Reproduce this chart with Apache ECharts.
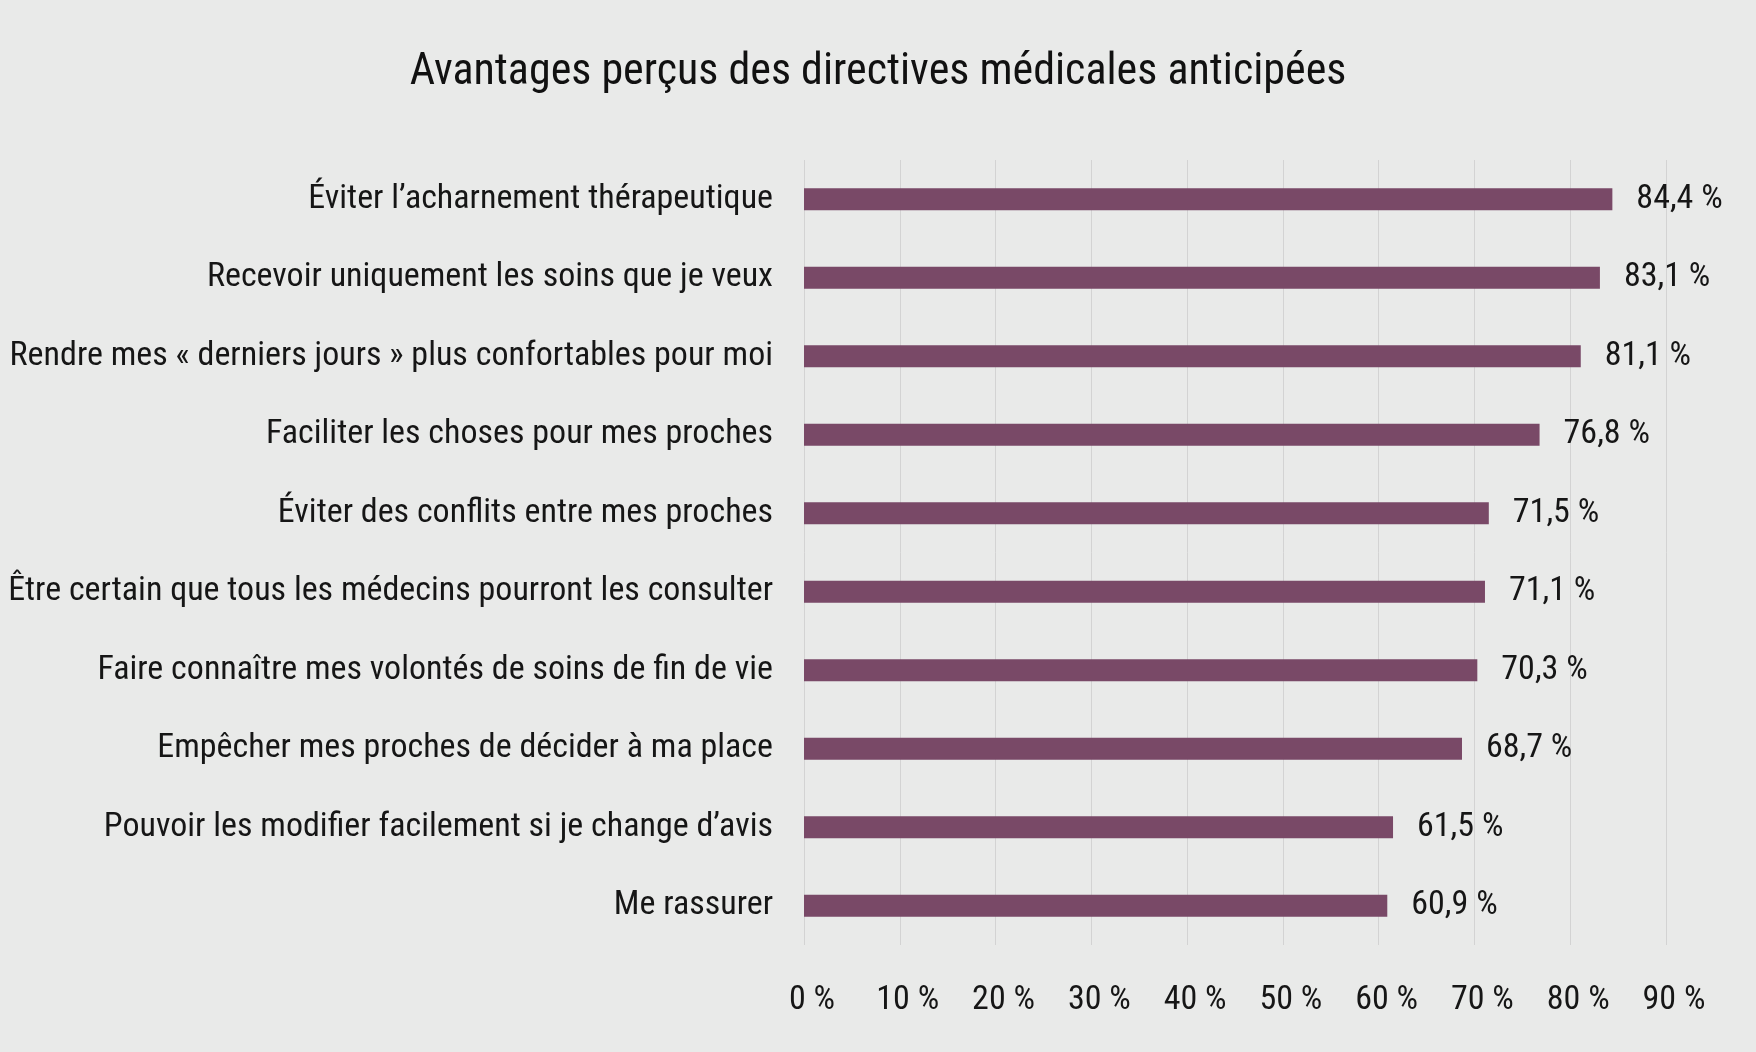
<!DOCTYPE html>
<html>
<head>
<meta charset="utf-8">
<script src="https://cdn.jsdelivr.net/npm/echarts@6/dist/echarts.min.js"></script>
<style>
html,body{margin:0;padding:0;background:#e9eae9;}
#chart{width:1756px;height:1052px;}
</style>
</head>
<body>
<div id="chart"></div>
<script>
const titleText = "Avantages perçus des directives médicales anticipées";
const categories = [
  "Éviter l\u2019acharnement thérapeutique",
  "Recevoir uniquement les soins que je veux",
  "Rendre mes « derniers jours » plus confortables pour moi",
  "Faciliter les choses pour mes proches",
  "Éviter des conflits entre mes proches",
  "Être certain que tous les médecins pourront les consulter",
  "Faire connaître mes volontés de soins de fin de vie",
  "Empêcher mes proches de décider à ma place",
  "Pouvoir les modifier facilement si je change d\u2019avis",
  "Me rassurer"
];
const values = [84.4, 83.1, 81.1, 76.8, 71.5, 71.1, 70.3, 68.7, 61.5, 60.9];
const xTicks = [0, 10, 20, 30, 40, 50, 60, 70, 80, 90];

const FONT = "'Roboto Condensed', 'Liberation Sans Narrow', 'Arial Narrow', 'DejaVu Sans Condensed', sans-serif";
const chart = echarts.init(document.getElementById('chart'), null, {renderer: 'canvas'});
chart.setOption({
  backgroundColor: '#e9eae9',
  animation: false,
  title: {
    text: titleText,
    left: 'center',
    top: 46,
    textStyle: {fontFamily: FONT, fontSize: 44, fontWeight: 'normal', color: '#111111'}
  },
  grid: {left: 804, right: 90, top: 160, bottom: 107, containLabel: false, outerBoundsMode: 'none'},
  xAxis: {
    type: 'value',
    min: xTicks[0],
    max: xTicks[xTicks.length - 1],
    interval: 10,
    axisLine: {show: false},
    axisTick: {show: false},
    splitLine: {show: true, lineStyle: {color: '#d3d3d3', width: 1}},
    axisLabel: {
      margin: 38,
      fontFamily: FONT,
      fontSize: 34,
      color: '#161616',
      padding: [0, 0, 0, 16],
      formatter: v => v + ' %'
    }
  },
  yAxis: {
    type: 'category',
    data: categories,
    inverse: true,
    axisLine: {show: false},
    axisTick: {show: false},
    splitLine: {show: false},
    axisLabel: {
      margin: 31,
      fontFamily: FONT,
      fontSize: 34,
      color: '#161616'
    }
  },
  series: [{
    type: 'bar',
    data: values,
    barWidth: 22,
    itemStyle: {color: '#794967'},
    label: {
      show: true,
      position: 'right',
      distance: 24,
      fontFamily: FONT,
      fontSize: 34,
      color: '#161616',
      formatter: p => p.value.toFixed(1).replace('.', ',') + ' %'
    }
  }]
});
</script>
</body>
</html>
